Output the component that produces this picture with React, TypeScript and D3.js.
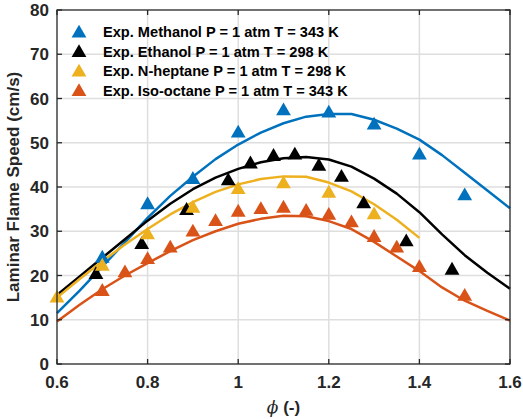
import React from "react";
import * as d3 from "d3";

const W = 523, H = 419;
const M = { left: 57, right: 13, top: 10, bottom: 55 };

const xTicks = [0.6, 0.8, 1.0, 1.2, 1.4, 1.6];
const yTicks = [0, 10, 20, 30, 40, 50, 60, 70, 80];

const simPhi = [0.6, 0.65, 0.7, 0.75, 0.8, 0.85, 0.9, 0.95, 1.0, 1.05, 1.1, 1.15, 1.2, 1.25, 1.3, 1.35, 1.4, 1.45, 1.5, 1.55, 1.6];
const simMethanol = [11.5, 16.6, 22, 27.5, 33, 38, 42.3, 46.3, 49.6, 52.3, 54.4, 55.9, 56.5, 56.5, 55.2, 53.2, 50.7, 47.2, 43.2, 39.2, 35.2];
const simEthanol = [15.6, 19.8, 24, 28.2, 32.4, 36.2, 39.5, 42.1, 44.1, 45.6, 46.5, 46.8, 46.2, 44.6, 41.9, 38.5, 34.3, 29.3, 24.6, 20.6, 17];
const simHeptane = [15, 19.2, 23.2, 27, 30.5, 33.8, 36.6, 38.9, 40.6, 41.8, 42.4, 42.3, 41, 39, 36.1, 32.6, 28.5];
const simIsooctane = [9.6, 13.4, 16.9, 20, 22.8, 25.5, 28, 30, 31.7, 32.8, 33.5, 33.4, 32.3, 30.5, 27.6, 24.3, 21, 17.3, 14.3, 12, 9.8];

const expMethanolPhi = [0.7, 0.8, 0.9, 1.0, 1.1, 1.2, 1.3, 1.4, 1.5];
const expMethanol = [24.2, 36.3, 42, 52.5, 57.5, 57, 54.3, 47.5, 38.3];
const expEthanolPhi = [0.686, 0.787, 0.886, 0.978, 1.027, 1.078, 1.125, 1.178, 1.228, 1.277, 1.371, 1.472];
const expEthanol = [20.5, 27.3, 35, 41.7, 45.5, 47.2, 47.5, 45, 42.5, 36.5, 27.9, 21.5];
const expHeptanePhi = [0.6, 0.7, 0.8, 0.9, 1.0, 1.1, 1.2, 1.3];
const expHeptane = [15.2, 22.4, 29.5, 35.5, 39.7, 41, 38.9, 34];
const expIsooctanePhi = [0.7, 0.75, 0.8, 0.85, 0.9, 0.95, 1.0, 1.05, 1.1, 1.15, 1.2, 1.25, 1.3, 1.35, 1.4, 1.5];
const expIsooctane = [16.7, 20.9, 23.9, 26.5, 30.1, 32.5, 34.6, 35.2, 35.5, 34.8, 33.9, 32.2, 28.9, 26.5, 22.1, 15.6];

const legendLabels = [
  "Exp. Methanol P = 1 atm T = 343 K",
  "Exp. Ethanol P = 1 atm T = 298 K",
  "Exp. N-heptane P = 1 atm T = 298 K",
  "Exp. Iso-octane P = 1 atm T = 343 K",
];
const colors = ["#0072BD", "#000000", "#EDB120", "#D95319"];

const FONT = "'Liberation Sans', Arial, sans-serif";

export default function App() {
  const x = d3.scaleLinear().domain([0.6, 1.6]).range([M.left, W - M.right]);
  const y = d3.scaleLinear().domain([0, 80]).range([H - M.bottom, M.top]);
  const line = d3.line<[number, number]>().x(d => x(d[0])).y(d => y(d[1]));
  const tri = d3.symbol().type(d3.symbolTriangle).size(95)() as string;

  const sims = [simMethanol, simEthanol, simHeptane, simIsooctane];
  const exps: [number[], number[]][] = [
    [expMethanolPhi, expMethanol],
    [expEthanolPhi, expEthanol],
    [expHeptanePhi, expHeptane],
    [expIsooctanePhi, expIsooctane],
  ];
  const x0 = M.left, x1 = W - M.right, y0 = H - M.bottom, y1 = M.top;
  const grid = "#dedede";
  const axisC = "#262626";

  return (
    <svg width={W} height={H} style={{ position: "absolute", left: 0, top: 0, background: "#fff" }} fontFamily={FONT}>
      <rect x={0} y={0} width={W} height={H} fill="#fff" />
      {xTicks.slice(1, -1).map(t => (
        <line key={"gx" + t} x1={x(t)} x2={x(t)} y1={y0} y2={y1} stroke={grid} strokeWidth={1.5} />
      ))}
      {yTicks.slice(1, -1).map(t => (
        <line key={"gy" + t} x1={x0} x2={x1} y1={y(t)} y2={y(t)} stroke={grid} strokeWidth={1.5} />
      ))}
      {sims.map((s, i) => (
        <path key={"l" + i} d={line(s.map((v, j) => [simPhi[j], v]) as [number, number][]) || ""}
          fill="none" stroke={colors[i]} strokeWidth={2.5} strokeLinejoin="round" />
      ))}
      {exps.map(([px, py], i) => py.map((v, j) => (
        <path key={"m" + i + "-" + j} d={tri} transform={`translate(${x(px[j])},${y(v) + 1.5})`} fill={colors[i]} />
      )))}
      <rect x={x0} y={y1} width={x1 - x0} height={y0 - y1} fill="none" stroke={axisC} strokeWidth={1.3} />
      {xTicks.map(t => (
        <g key={"tx" + t}>
          <line x1={x(t)} x2={x(t)} y1={y0} y2={y0 - 5} stroke={axisC} strokeWidth={1.3} />
          <line x1={x(t)} x2={x(t)} y1={y1} y2={y1 + 5} stroke={axisC} strokeWidth={1.3} />
          <text x={x(t)} y={y0 + 24} textAnchor="middle" fontSize={17} fontWeight="bold" fill={axisC}>{d3.format("")(+t.toFixed(1))}</text>
        </g>
      ))}
      {yTicks.map(t => (
        <g key={"ty" + t}>
          <line x1={x0} x2={x0 + 5} y1={y(t)} y2={y(t)} stroke={axisC} strokeWidth={1.3} />
          <line x1={x1} x2={x1 - 5} y1={y(t)} y2={y(t)} stroke={axisC} strokeWidth={1.3} />
          <text x={x0 - 8} y={y(t) + 6} textAnchor="end" fontSize={17} fontWeight="bold" fill={axisC}>{t}</text>
        </g>
      ))}
      <text transform={`translate(19,${(y0 + y1) / 2}) rotate(-90)`} textAnchor="middle" fontSize={17} fontWeight="bold" fill={axisC}>
        Laminar Flame Speed (cm/s)
      </text>
      <text x={(x0 + x1) / 2} y={413} textAnchor="middle" fontSize={17} fill={axisC}>
        <tspan fontStyle="italic" fontFamily="'DejaVu Serif', serif">ϕ</tspan>
        <tspan fontWeight="bold"> (-)</tspan>
      </text>
      {legendLabels.map((l, i) => (
        <g key={"lg" + i} transform={`translate(0,${32.3 + i * 19.5})`}>
          <path d={tri} transform="translate(79,1)" fill={colors[i]} />
          <text x={103} y={5} fontSize={14.6} fontWeight="bold" fill="#000">{l}</text>
        </g>
      ))}
    </svg>
  );
}
